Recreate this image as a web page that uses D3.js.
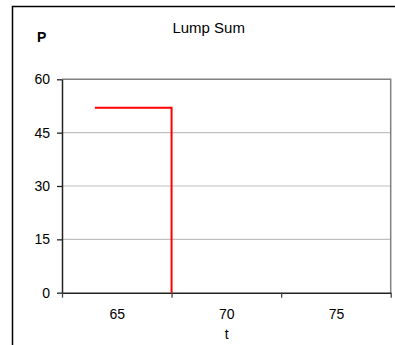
<!DOCTYPE html>
<html>
<head>
<meta charset="utf-8">
<script src="https://cdn.jsdelivr.net/npm/d3@7"></script>
<style>
  html, body { margin: 0; padding: 0; background: #fff; }
  svg { display: block; font-family: "Liberation Sans", Arial, sans-serif; }
</style>
</head>
<body>
<div id="chart"></div>
<script>
// Lump sum payment: P held until t, then drops to zero
const tValues = [64, 67.5, 67.5];
const pValues = [52, 52, 0];
const yTicks = [0, 15, 30, 45, 60];
const xTickMarks = [62.5, 67.5, 72.5, 77.5];
const xLabels = [65, 70, 75];

const width = 395;
const height = 345;
const plot = { left: 62, right: 390.7, top: 79.3, bottom: 292.7 };

const svg = d3
  .select('#chart')
  .append('svg')
  .attr('width', width)
  .attr('height', height);

// outer chart frame (runs off the right/bottom edge)
svg
  .append('rect')
  .attr('x', 12.5)
  .attr('y', 6.5)
  .attr('width', 420)
  .attr('height', 420)
  .attr('fill', 'none')
  .attr('stroke', '#000')
  .attr('stroke-width', 1.5);

const x = d3.scaleLinear().domain([62.5, 77.5]).range([plot.left, plot.right]);
const y = d3.scaleLinear().domain([0, 60]).range([plot.bottom, plot.top]);

// Gridlines
svg
  .append('g')
  .selectAll('line')
  .data(yTicks.filter((d) => d > 0 && d < 60))
  .enter()
  .append('line')
  .attr('x1', plot.left)
  .attr('x2', plot.right)
  .attr('y1', (d) => y(d))
  .attr('y2', (d) => y(d))
  .attr('stroke', '#c0c0c0')
  .attr('stroke-width', 1.2);

// plot area border (top + right)
svg
  .append('path')
  .attr('d', `M${plot.left},${y(60)}H${plot.right}V${plot.bottom}`)
  .attr('fill', 'none')
  .attr('stroke', '#808080')
  .attr('stroke-width', 1.5);

// Y axis
const yAxis = svg
  .append('g')
  .attr('transform', `translate(${plot.left},0)`)
  .call(d3.axisLeft(y).tickValues(yTicks).tickSize(5).tickPadding(7).tickSizeOuter(0));
yAxis.select('.domain').attr('stroke', '#222').attr('stroke-width', 1.5);
yAxis.selectAll('.tick line').attr('stroke', '#222').attr('stroke-width', 1.3);
yAxis
  .selectAll('text')
  .attr('font-size', '14px')
  .attr('font-family', '"Liberation Sans", Arial, sans-serif')
  .attr('fill', '#000');

// X axis: tick marks between categories
const xAxis = svg
  .append('g')
  .attr('transform', `translate(0,${plot.bottom})`)
  .call(d3.axisBottom(x).tickValues(xTickMarks).tickFormat('').tickSize(5).tickSizeOuter(0));
xAxis.select('.domain').attr('stroke', '#222').attr('stroke-width', 1.5);
xAxis.selectAll('.tick line').attr('stroke', '#444').attr('stroke-width', 1.3);

// X labels
const xLab = svg
  .append('g')
  .attr('transform', `translate(0,${plot.bottom})`)
  .call(d3.axisBottom(x).tickValues(xLabels).tickSize(0).tickPadding(16.5));
xLab.select('.domain').remove();
xLab
  .selectAll('text')
  .attr('font-size', '14px')
  .attr('font-family', '"Liberation Sans", Arial, sans-serif')
  .attr('fill', '#000');

// Series
const line = d3
  .line()
  .x((d) => x(d[0]))
  .y((d) => y(d[1]));

svg
  .append('path')
  .datum(d3.zip(tValues, pValues))
  .attr('d', line)
  .attr('fill', 'none')
  .attr('stroke', '#ff0000')
  .attr('stroke-width', 2);

// Titles
svg
  .append('text')
  .attr('x', 208.7)
  .attr('y', 32.5)
  .attr('text-anchor', 'middle')
  .attr('font-size', '15px')
  .text('Lump Sum');

svg
  .append('text')
  .attr('x', 37)
  .attr('y', 41.5)
  .attr('font-size', '14px')
  .attr('font-weight', 'bold')
  .text('P');

svg
  .append('text')
  .attr('x', 226.7)
  .attr('y', 339)
  .attr('text-anchor', 'middle')
  .attr('font-size', '14px')
  .text('t');
</script>
</body>
</html>
